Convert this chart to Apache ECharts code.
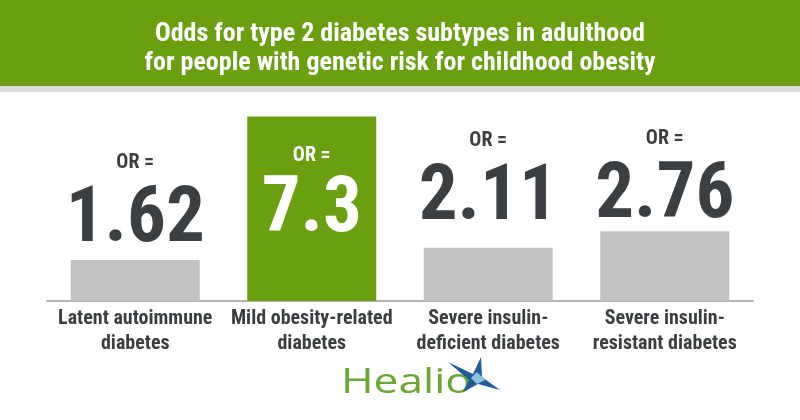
<!DOCTYPE html>
<html><head><meta charset="utf-8">
<script src="https://cdn.jsdelivr.net/npm/echarts@6/dist/echarts.min.js"></script>
<style>html,body{margin:0;padding:0;background:#fff}#c{width:800px;height:420px}</style>
</head><body><div id="c"></div>
<script>
const titleLines = ['Odds for type 2 diabetes subtypes in adulthood', 'for people with genetic risk for childhood obesity'];
const categories = ['Latent autoimmune\ndiabetes', 'Mild obesity-related\ndiabetes', 'Severe insulin-\ndeficient diabetes', 'Severe insulin-\nresistant diabetes'];
const oddsRatios = [1.62, 7.3, 2.11, 2.76];
const highlighted = [false, true, false, false];
const labelPrefix = 'OR =';

const GREEN = '#6a9f10';
const DARK = '#3b3f42';
const FONT = "'Liberation Sans Narrow', 'Arial Narrow', 'Roboto Condensed', Roboto, sans-serif";
const labelGap = [3, 18, 13, -2];

const chart = echarts.init(document.getElementById('c'), null, {renderer: 'canvas'});
chart.setOption({
  animation: false,
  backgroundColor: '#fff',
  graphic: [
    {type: 'rect', shape: {x: 0, y: 0, width: 800, height: 86}, style: {fill: GREEN}, z: 0},
    {type: 'rect', shape: {x: 0, y: 86, width: 800, height: 6}, style: {fill: '#dcdcdc'}, z: 0},
    {type: 'text', x: 341, y: 366, scaleX: 1.3, style: {text: 'Healio', fill: '#6aa632', font: "normal 34px 'Open Sans', Lato, sans-serif"}, z: 5},
    {type: 'polygon', shape: {points: [[481,357],[473,374],[448,362],[469,380],[463,392],[478,384],[500,390],[482,377]]}, style: {fill: '#1f5d99'}, z: 5},
    {type: 'polygon', shape: {points: [[471,378],[477,372],[485,380],[477,384]]}, style: {fill: '#8ec3e6'}, z: 6}
  ],
  title: {
    text: titleLines.join('\n'),
    left: 'center', top: 15,
    textStyle: {color: '#fff', fontFamily: FONT, fontWeight: 'bold', fontSize: 26, lineHeight: 29}
  },
  grid: {left: 47, right: 47, top: 116.5, bottom: 119, containLabel: false},
  xAxis: {
    type: 'category', data: categories,
    axisLine: {lineStyle: {color: '#b3b3b3', width: 2}},
    axisTick: {show: false},
    axisLabel: {interval: 0, color: DARK, fontFamily: FONT, fontWeight: 'bold', fontSize: 20, lineHeight: 25, margin: 5}
  },
  yAxis: {type: 'value', min: 0, max: 7.3, show: false, splitLine: {show: false}},
  series: [{
    type: 'bar', barWidth: 129,
    data: oddsRatios.map((v, i) => ({
      value: v,
      itemStyle: {color: highlighted[i] ? GREEN : '#c2c2c2'},
      label: {
        show: true,
        position: highlighted[i] ? 'insideTop' : 'top',
        distance: labelGap[i],
        color: highlighted[i] ? '#fff' : DARK,
        formatter: p => '{a|' + labelPrefix + '}\n{b|' + p.value + '}',
        rich: {
          a: {fontFamily: FONT, fontWeight: 'bold', fontSize: 20, lineHeight: highlighted[i] ? 42 : 48, color: highlighted[i] ? '#fff' : DARK},
          b: {fontFamily: FONT, fontWeight: 'bold', fontSize: 77, lineHeight: 70, color: highlighted[i] ? '#fff' : DARK}
        }
      }
    }))
  }]
});
</script></body></html>
